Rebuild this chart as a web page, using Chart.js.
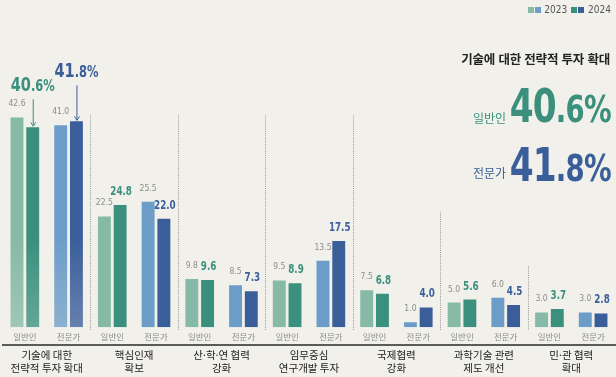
<!DOCTYPE html>
<html lang="ko">
<head>
<meta charset="UTF-8">
<title>과학기술 정책 우선순위</title>
<script src="https://cdn.jsdelivr.net/npm/chart.js"></script>
<style>
    html, body { margin: 0; padding: 0; background: #f1f0eb; }
    .wrap { position: relative; width: 616px; height: 377px; overflow: hidden; font-family: 'Noto Sans CJK KR', sans-serif; }
    canvas { position: absolute; left: 0; top: 0; }
    .legend { position: absolute; top: 4px; right: 5px; font-size: 10px; color: #555; font-family: 'DejaVu Sans Condensed', sans-serif; }
    .legend i { display: inline-block; width: 6px; height: 6px; margin-right: 1px; }
    .legend span { margin-right: 4px; }
    .title { position: absolute; right: 6px; top: 49px; font-size: 12.5px; font-weight: 700; color: #222; letter-spacing: -0.2px; }
    .who { position: absolute; font-size: 12px; }
    .big { position: absolute; right: 5px; font-family: 'DejaVu Sans Condensed', sans-serif; font-weight: 700; font-size: 46px; line-height: 1; transform: scaleX(0.83); transform-origin: right; letter-spacing: -1px; }
    .big small { font-size: 37px; }
    .teal { color: #3a8f7d; }
    .blue { color: #3a5e9a; }
</style>
</head>
<body>
<div class="wrap">
    <canvas id="chart" width="616" height="377"></canvas>
    <div class="legend">
        <span><i style="background:#86b9a6"></i><i style="background:#6c9cc8"></i> 2023</span><i style="background:#3a8f7d"></i><i style="background:#3a5e9a"></i> 2024
    </div>
    <div class="title">기술에 대한 전략적 투자 확대</div>
    <div class="who teal" style="left:473px; top:109px;">일반인</div>
    <div class="big teal" id="bigPublic" style="top:83px;"></div>
    <div class="who blue" style="left:473px; top:164px;">전문가</div>
    <div class="big blue" id="bigExpert" style="top:142px;"></div>
</div>

<script>
    // 데이터
    const groups = ['일반인', '전문가'];
    const categories = [
        ['기술에 대한', '전략적 투자 확대'],
        ['핵심인재', '확보'],
        ['산·학·연 협력', '강화'],
        ['임무중심', '연구개발 투자'],
        ['국제협력', '강화'],
        ['과학기술 관련', '제도 개선'],
        ['민·관 협력', '확대']
    ];
    const public2023 = [42.6, 22.5, 9.8, 9.5, 7.5, 5.0, 3.0];
    const public2024 = [40.6, 24.8, 9.6, 8.9, 6.8, 5.6, 3.7];
    const expert2023 = [41.0, 25.5, 8.5, 13.5, 1.0, 6.0, 3.0];
    const expert2024 = [41.8, 22.0, 7.3, 17.5, 4.0, 4.5, 2.8];
    const dividerTops = [43, 43, 43, 43, 23.3, 12.4];

    const tealLight = '#86b9a6', tealDark = '#3a8f7d';
    const blueLight = '#6c9cc8', blueDark = '#3a5e9a';

    // 14개 막대 슬롯 (카테고리별 일반인/전문가)
    const slots = [], v2023 = [], v2024 = [];
    categories.forEach((c, i) => {
        slots.push(groups[0], groups[1]);
        v2023.push(public2023[i], expert2023[i]);
        v2024.push(public2024[i], expert2024[i]);
    });

    // 첫 번째 항목은 아래쪽으로 옅어지는 그라데이션
    function fade(color, area, ctx) {
        const g = ctx.createLinearGradient(0, area.bottom - 90, 0, area.bottom);
        g.addColorStop(0, color);
        g.addColorStop(1, color + 'c4');
        return g;
    }
    function barColor(light) {
        return (c) => {
            const base = c.dataIndex % 2 ? (light ? blueLight : blueDark) : (light ? tealLight : tealDark);
            const area = c.chart.chartArea;
            if (c.dataIndex < 2 && area) return fade(base, area, c.chart.ctx);
            return base;
        };
    }

    function bigHtml(v) {
        const s = v.toFixed(1).split('.');
        return s[0] + '<small>.' + s[1] + '%</small>';
    }
    document.getElementById('bigPublic').innerHTML = bigHtml(public2024[0]);
    document.getElementById('bigExpert').innerHTML = bigHtml(expert2024[0]);

    const narrow = "'DejaVu Sans Condensed', sans-serif";

    // 구분선
    const dividers = {
        id: 'dividers',
        beforeDatasetsDraw(chart) {
            const ctx = chart.ctx, x = chart.scales.x, y = chart.scales.y;
            ctx.save();
            ctx.strokeStyle = '#96968f';
            ctx.lineWidth = 1;
            ctx.setLineDash([1, 1.2]);
            dividerTops.forEach((t, i) => {
                const px = Math.round((x.getPixelForValue(i * 2 + 1) + x.getPixelForValue(i * 2 + 2)) / 2) + 0.5;
                ctx.beginPath();
                ctx.moveTo(px, y.getPixelForValue(t));
                ctx.lineTo(px, y.bottom + 3);
                ctx.stroke();
            });
            ctx.restore();
        }
    };

    // 좁게 눌린 글자
    function squeezed(ctx, text, x, y, sx, align) {
        ctx.save();
        ctx.translate(x, y);
        ctx.scale(sx, 1);
        ctx.textAlign = align || 'center';
        ctx.fillText(text, 0, 0);
        ctx.restore();
    }

    // 값 레이블
    const valueLabels = {
        id: 'valueLabels',
        afterDatasetsDraw(chart) {
            const ctx = chart.ctx;
            ctx.save();
            ctx.textBaseline = 'alphabetic';
            chart.data.datasets.forEach((ds, di) => {
                chart.getDatasetMeta(di).data.forEach((bar, i) => {
                    const v = ds.data[i];
                    if (di === 0) {
                        ctx.fillStyle = '#8c8c8a';
                        ctx.font = '9.5px ' + narrow;
                        squeezed(ctx, v.toFixed(1), bar.x, bar.y - 11, 0.9);
                    } else if (i < 2) {
                        const color = i % 2 ? blueDark : tealDark;
                        const base = bar.y - (i ? 44 : 36);
                        const parts = v.toFixed(1).split('.');
                        const sx = 0.85;
                        ctx.font = 'bold 19px ' + narrow;
                        const w1 = ctx.measureText(parts[0]).width * sx;
                        ctx.font = 'bold 15px ' + narrow;
                        const w2 = ctx.measureText('.' + parts[1] + '%').width * sx;
                        const left = bar.x - (w1 + w2) / 2;
                        ctx.fillStyle = color;
                        ctx.font = 'bold 19px ' + narrow;
                        squeezed(ctx, parts[0], left, base, sx, 'left');
                        ctx.font = 'bold 15px ' + narrow;
                        squeezed(ctx, '.' + parts[1] + '%', left + w1, base, sx, 'left');
                        // 화살표
                        ctx.strokeStyle = color;
                        ctx.lineWidth = 1;
                        ctx.beginPath();
                        ctx.moveTo(bar.x + 0.5, base + 8);
                        ctx.lineTo(bar.x + 0.5, bar.y - 2);
                        ctx.stroke();
                        ctx.beginPath();
                        ctx.moveTo(bar.x - 2, bar.y - 5);
                        ctx.lineTo(bar.x + 0.5, bar.y - 1);
                        ctx.lineTo(bar.x + 3, bar.y - 5);
                        ctx.stroke();
                    } else {
                        ctx.fillStyle = i % 2 ? blueDark : tealDark;
                        ctx.font = 'bold 12.5px ' + narrow;
                        squeezed(ctx, v.toFixed(1), bar.x + 1, bar.y - 10, 0.78);
                    }
                });
            });
            ctx.restore();
        }
    };

    new Chart(document.getElementById('chart'), {
        type: 'bar',
        data: {
            labels: slots,
            datasets: [
                { label: '2023', data: v2023, backgroundColor: barColor(true), categoryPercentage: 0.72, barPercentage: 0.82 },
                { label: '2024', data: v2024, backgroundColor: barColor(false), categoryPercentage: 0.72, barPercentage: 0.82 }
            ]
        },
        options: {
            responsive: false,
            animation: false,
            layout: { padding: { left: 3, right: 1, top: 81, bottom: 0 } },
            plugins: { legend: { display: false }, tooltip: { enabled: false } },
            scales: {
                y: { display: false, min: 0, max: 50 },
                x: {
                    offset: true,
                    grid: { display: false, drawTicks: false },
                    border: { display: false },
                    ticks: { color: '#8c8c8a', font: { size: 8.5, family: "'Noto Sans CJK KR', sans-serif" }, padding: 4, maxRotation: 0, autoSkip: false }
                },
                x2: {
                    type: 'category',
                    labels: categories,
                    position: 'bottom',
                    offset: true,
                    grid: { display: false, drawTicks: false },
                    border: { display: true, color: '#5a5a58', width: 2 },
                    ticks: { color: '#222', font: { size: 10.5, family: "'Noto Sans CJK KR', sans-serif", lineHeight: 1.22 }, padding: 3, maxRotation: 0, autoSkip: false }
                }
            }
        },
        plugins: [dividers, valueLabels]
    });
</script>
</body>
</html>
